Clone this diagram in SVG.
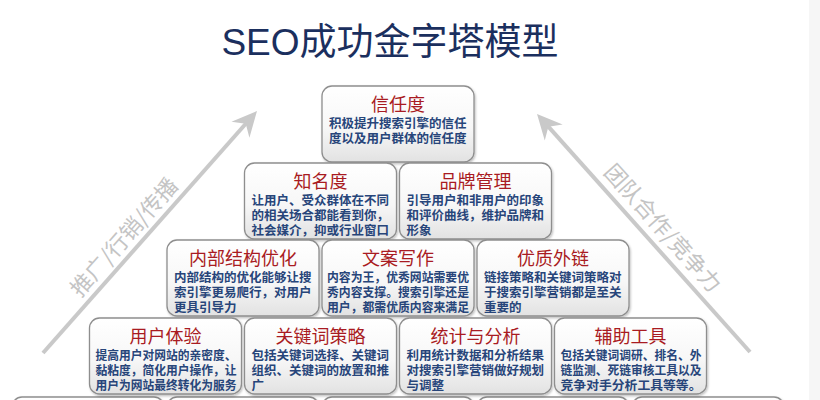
<svg xmlns="http://www.w3.org/2000/svg" width="820" height="400" viewBox="0 0 820 400">
<defs>
<linearGradient id="g" x1="0" y1="0" x2="0" y2="1">
<stop offset="0" stop-color="#ffffff"/>
<stop offset="0.55" stop-color="#f7f7f7"/>
<stop offset="1" stop-color="#e2e2e2"/>
</linearGradient>
<filter id="sh" x="-5%" y="-5%" width="115%" height="120%">
<feDropShadow dx="1" dy="1.5" stdDeviation="1.2" flood-color="#000" flood-opacity="0.25"/>
</filter>
<marker id="ah" markerUnits="userSpaceOnUse" viewBox="-26 -14 30 28" refX="-16" refY="0" markerWidth="30" markerHeight="28" orient="auto" overflow="visible">
<path d="M0,0 L-25,-12 L-17,0 L-25,12 Z" fill="#c9c9c9"/>
</marker>
<style>
.box{fill:url(#g);stroke:#8e8e8e;stroke-width:1.3;filter:url(#sh)}
.t{font-family:"Noto Sans CJK SC",sans-serif;font-size:18px;fill:#a91b22;text-anchor:middle}
.b{font-family:"Noto Sans CJK SC",sans-serif;font-size:12.5px;font-weight:700;fill:#27457a}
.arr{stroke:#c9c9c9;stroke-width:4;fill:none;marker-end:url(#ah)}
.al{font-family:"Noto Sans CJK SC",sans-serif;font-size:22px;fill:#c4c4c4;text-anchor:middle}
.title{font-family:"Liberation Sans","Noto Sans CJK SC",sans-serif;font-size:37px;fill:#1b2f5e;text-anchor:middle}
</style>
</defs>
<rect x="0" y="0" width="820" height="400" fill="#ffffff"/>
<rect x="809" y="0" width="11" height="400" fill="#f6f6f6"/>
<text class="title" x="390" y="55">SEO成功金字塔模型</text>

<g id="connectors">
<line class="arr" x1="43" y1="353" x2="246.4" y2="123"/>
<line class="arr" x1="750" y1="352" x2="547.7" y2="125.9"/>
<text class="al" transform="translate(124,237) rotate(-48.5)" x="0" y="8">推广/行销/传播</text>
<text class="al" transform="translate(663,228) rotate(48.2)" x="0" y="8">团队合作/竞争力</text>
</g>

<g id="n-bottom">
<rect class="box" x="12" y="397" width="152" height="76" rx="10"/>
<rect class="box" x="167" y="397" width="152" height="76" rx="10"/>
<rect class="box" x="322" y="397" width="152" height="76" rx="10"/>
<rect class="box" x="477" y="397" width="152" height="76" rx="10"/>
<rect class="box" x="632" y="397" width="152" height="76" rx="10"/>
</g>

<g id="n-xinrendu">
<rect class="box" x="322" y="86" width="152" height="76" rx="10"/>
<text class="t" x="398" y="111">信任度</text>
<text class="b" x="329" y="128">积极提升搜索引擎的信任</text>
<text class="b" x="329" y="143">度以及用户群体的信任度</text>
</g>

<g id="n-zhimingdu">
<rect class="box" x="244.5" y="163" width="152" height="76" rx="10"/>
<text class="t" x="320.5" y="188">知名度</text>
<text class="b" x="251.5" y="205">让用户、受众群体在不同</text>
<text class="b" x="251.5" y="220">的相关场合都能看到你，</text>
<text class="b" x="251.5" y="235">社会媒介，抑或行业窗口</text>
</g>

<g id="n-pinpai">
<rect class="box" x="399.5" y="163" width="152" height="76" rx="10"/>
<text class="t" x="475.5" y="188">品牌管理</text>
<text class="b" x="406.5" y="205">引导用户和非用户的印象</text>
<text class="b" x="406.5" y="220">和评价曲线，维护品牌和</text>
<text class="b" x="406.5" y="235">形象</text>
</g>

<g id="n-neibu">
<rect class="box" x="167" y="240" width="152" height="76" rx="10"/>
<text class="t" x="243" y="265">内部结构优化</text>
<text class="b" x="174" y="282">内部结构的优化能够让搜</text>
<text class="b" x="174" y="297">索引擎更易爬行，对用户</text>
<text class="b" x="174" y="312">更具引导力</text>
</g>

<g id="n-wenan">
<rect class="box" x="322" y="240" width="152" height="76" rx="10"/>
<text class="t" x="398" y="265">文案写作</text>
<text class="b" x="327" y="282" textLength="142" lengthAdjust="spacingAndGlyphs">内容为王，优秀网站需要优</text>
<text class="b" x="327" y="297" textLength="142" lengthAdjust="spacingAndGlyphs">秀内容支撑。搜索引擎还是</text>
<text class="b" x="327" y="312" textLength="142" lengthAdjust="spacingAndGlyphs">用户，都需优质内容来满足</text>
</g>

<g id="n-waelian">
<rect class="box" x="477" y="240" width="152" height="76" rx="10"/>
<text class="t" x="553" y="265">优质外链</text>
<text class="b" x="484" y="282">链接策略和关键词策略对</text>
<text class="b" x="484" y="297">于搜索引擎营销都是至关</text>
<text class="b" x="484" y="312">重要的</text>
</g>

<g id="n-yonghu">
<rect class="box" x="89.5" y="318" width="152" height="76" rx="10"/>
<text class="t" x="165.5" y="343">用户体验</text>
<text class="b" x="95.5" y="360" textLength="141" lengthAdjust="spacingAndGlyphs">提高用户对网站的亲密度、</text>
<text class="b" x="95.5" y="375" textLength="141" lengthAdjust="spacingAndGlyphs">黏粘度，简化用户操作，让</text>
<text class="b" x="95.5" y="390" textLength="141" lengthAdjust="spacingAndGlyphs">用户为网站最终转化为服务</text>
</g>

<g id="n-guanjianci">
<rect class="box" x="244.5" y="318" width="152" height="76" rx="10"/>
<text class="t" x="320.5" y="343">关键词策略</text>
<text class="b" x="251.5" y="360">包括关键词选择、关键词</text>
<text class="b" x="251.5" y="375">组织、关键词的放置和推</text>
<text class="b" x="251.5" y="390">广</text>
</g>

<g id="n-tongji">
<rect class="box" x="399.5" y="318" width="152" height="76" rx="10"/>
<text class="t" x="475.5" y="343">统计与分析</text>
<text class="b" x="406.5" y="360">利用统计数据和分析结果</text>
<text class="b" x="406.5" y="375">对搜索引擎营销做好规划</text>
<text class="b" x="406.5" y="390">与调整</text>
</g>

<g id="n-fuzhu">
<rect class="box" x="554.5" y="318" width="152" height="76" rx="10"/>
<text class="t" x="630.5" y="343">辅助工具</text>
<text class="b" x="560.5" y="360" textLength="141" lengthAdjust="spacingAndGlyphs">包括关键词调研、排名、外</text>
<text class="b" x="560.5" y="375" textLength="141" lengthAdjust="spacingAndGlyphs">链监测、死链审核工具以及</text>
<text class="b" x="560.5" y="390" textLength="141" lengthAdjust="spacingAndGlyphs">竞争对手分析工具等等。</text>
</g>
</svg>
